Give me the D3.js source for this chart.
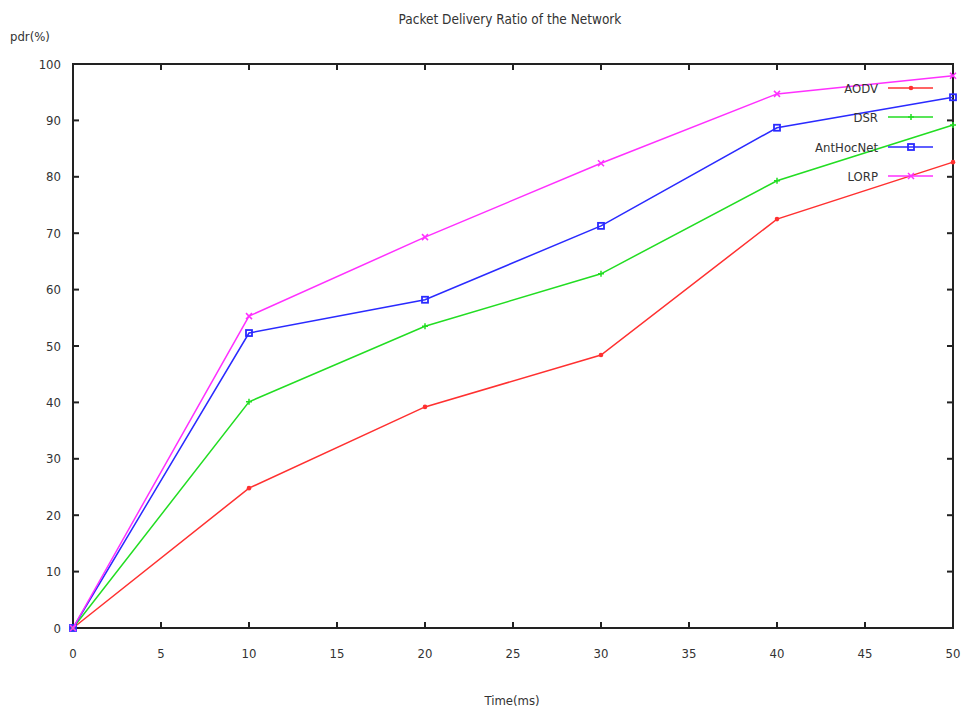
<!DOCTYPE html>
<html><head><meta charset="utf-8">
<script src="https://cdn.jsdelivr.net/npm/d3@7"></script>
<style>body{margin:0;background:#fff}svg{display:block}text{font-family:"DejaVu Sans Condensed","Liberation Sans Narrow",sans-serif;fill:#333}</style>
</head><body><svg id="c" width="965" height="710"></svg>
<script>
const times = [0, 10, 20, 30, 40, 50];
const aodv = [0, 24.8, 39.2, 48.4, 72.5, 82.6];
const dsr = [0, 40.1, 53.5, 62.8, 79.3, 89.2];
const antHocNet = [0, 52.3, 58.2, 71.3, 88.7, 94.1];
const lorp = [0, 55.3, 69.3, 82.4, 94.7, 97.9];
const seriesNames = ["AODV", "DSR", "AntHocNet", "LORP"];
const xTicks = [0, 5, 10, 15, 20, 25, 30, 35, 40, 45, 50];
const yTicks = [0, 10, 20, 30, 40, 50, 60, 70, 80, 90, 100];

const colors = ["#ff3030", "#22dd22", "#2a2aff", "#ff30ff"];
const markers = ["dot", "plus", "square", "cross"];
const data = [aodv, dsr, antHocNet, lorp];

const svg = d3.select("#c");
const L = 73, R = 953, T = 64, B = 628;
const x = d3.scaleLinear().domain([0, 50]).range([L, R]);
const y = d3.scaleLinear().domain([0, 100]).range([B, T]);

svg.append("rect").attr("x", L).attr("y", T).attr("width", R - L).attr("height", B - T)
  .attr("fill", "none").attr("stroke", "#222").attr("stroke-width", 2);

const tk = 6;
xTicks.forEach(v => {
  svg.append("line").attr("x1", x(v)).attr("x2", x(v)).attr("y1", B).attr("y2", B - tk).attr("stroke", "#222").attr("stroke-width", 2);
  svg.append("line").attr("x1", x(v)).attr("x2", x(v)).attr("y1", T).attr("y2", T + tk).attr("stroke", "#222").attr("stroke-width", 2);
  svg.append("text").attr("x", x(v)).attr("y", B + 30).attr("text-anchor", "middle").attr("font-size", 13).text(v);
});
yTicks.forEach(v => {
  svg.append("line").attr("x1", L).attr("x2", L + tk).attr("y1", y(v)).attr("y2", y(v)).attr("stroke", "#222").attr("stroke-width", 2);
  svg.append("line").attr("x1", R).attr("x2", R - tk).attr("y1", y(v)).attr("y2", y(v)).attr("stroke", "#222").attr("stroke-width", 2);
  svg.append("text").attr("x", L - 12).attr("y", y(v)).attr("dy", "0.35em").attr("text-anchor", "end").attr("font-size", 13).text(v);
});

svg.append("text").attr("x", 510).attr("y", 24).attr("text-anchor", "middle").attr("font-size", 13.5).text("Packet Delivery Ratio of the Network");
svg.append("text").attr("x", 10).attr("y", 41).attr("font-size", 13).text("pdr(%)");
svg.append("text").attr("x", 512).attr("y", 705).attr("text-anchor", "middle").attr("font-size", 13).text("Time(ms)");

function drawMarker(g, type, cx, cy, color) {
  const s = 3;
  if (type === "dot") {
    g.append("circle").attr("cx", cx).attr("cy", cy).attr("r", 2.3).attr("fill", color);
  } else if (type === "plus") {
    g.append("path").attr("d", `M${cx - s},${cy}H${cx + s}M${cx},${cy - s}V${cy + s}`).attr("stroke", color).attr("stroke-width", 1.5);
  } else if (type === "square") {
    g.append("rect").attr("x", cx - 3).attr("y", cy - 3).attr("width", 6).attr("height", 6).attr("fill", "none").attr("stroke", color).attr("stroke-width", 1.8);
  } else {
    g.append("path").attr("d", `M${cx - s},${cy - s}L${cx + s},${cy + s}M${cx - s},${cy + s}L${cx + s},${cy - s}`).attr("stroke", color).attr("stroke-width", 1.5);
  }
}

const line = d3.line().x((d, i) => x(times[i])).y(d => y(d));
data.forEach((vals, k) => {
  const g = svg.append("g");
  g.append("path").datum(vals).attr("d", line).attr("fill", "none").attr("stroke", colors[k]).attr("stroke-width", 1.5);
  vals.forEach((v, i) => drawMarker(g, markers[k], x(times[i]), y(v), colors[k]));
});

const legY = [88, 117, 147, 176];
seriesNames.forEach((n, k) => {
  const g = svg.append("g");
  g.append("text").attr("x", 878).attr("y", legY[k]).attr("dy", "0.35em").attr("text-anchor", "end").attr("font-size", 13).text(n);
  g.append("line").attr("x1", 888).attr("x2", 933).attr("y1", legY[k]).attr("y2", legY[k]).attr("stroke", colors[k]).attr("stroke-width", 1.5);
  drawMarker(g, markers[k], 911, legY[k], colors[k]);
});
</script></body></html>
